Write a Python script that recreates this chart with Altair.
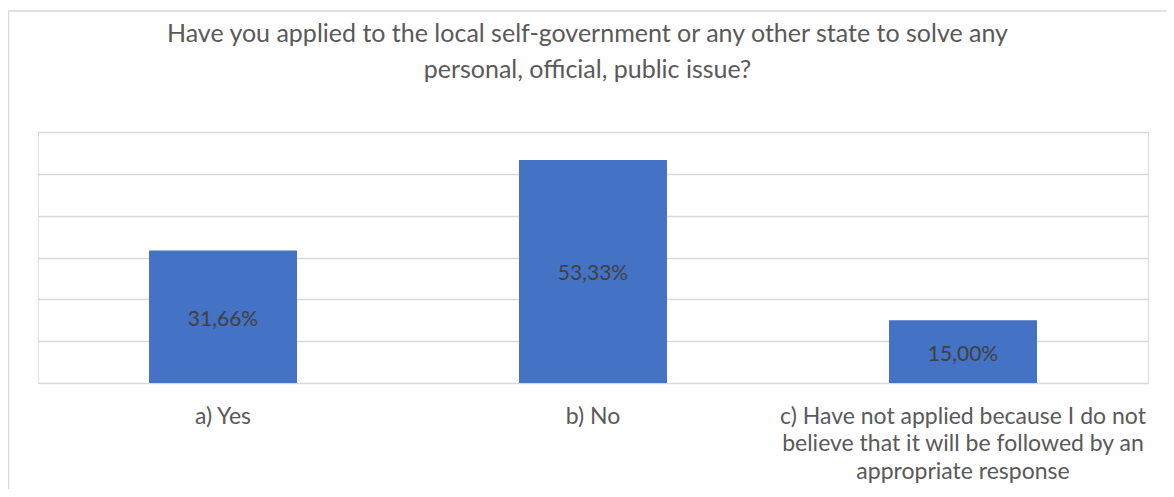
import altair as alt
import pandas as pd

categories = [
    "a) Yes",
    "b) No",
    "c) Have not applied because I do not|believe that it will be followed by an|appropriate response",
]
values = [0.3166, 0.5333, 0.15]
title_lines = [
    "Have you applied to the local self-government or any other state to solve any",
    "personal, official, public issue?",
]
y_ticks = [0, 0.1, 0.2, 0.3, 0.4, 0.5, 0.6]

FONT = "Lato"
df = pd.DataFrame({"category": categories, "value": values})

x_enc = alt.X(
    "category:N",
    sort=categories,
    scale=alt.Scale(paddingInner=0.6, paddingOuter=0.3),
    axis=alt.Axis(
        title=None,
        labelAngle=0,
        labelExpr="split(datum.value, '|')",
        labelFont=FONT,
        labelFontSize=23,
        labelColor="#595959",
        labelLineHeight=27.5,
        labelPadding=33,
        labelBaseline="middle",
        ticks=False,
        domain=False,
        labelLimit=0,
    ),
)
y_enc = alt.Y(
    "value:Q",
    scale=alt.Scale(domain=[0, 0.6], nice=False),
    axis=alt.Axis(
        title=None,
        labels=False,
        ticks=False,
        domain=False,
        values=y_ticks,
        grid=True,
        gridColor="#d9d9d9",
        gridWidth=1.5,
    ),
)

base = alt.Chart(df)
bars = base.mark_bar(color="#4472C4").encode(x=x_enc, y=y_enc)
labels = base.transform_calculate(
    mid="datum.value / 2",
    label="replace(format(datum.value, '.2%'), '.', ',')",
).mark_text(font=FONT, fontSize=21, color="#404040", baseline="middle", dy=3).encode(
    x=alt.X("category:N", sort=categories),
    y=alt.Y("mid:Q"),
    text="label:N",
)

frame_data = alt.Data(values=[{"k": 1}])
left_border = alt.Chart(frame_data).mark_rule(color="#d9d9d9", strokeWidth=1.5).encode(
    x=alt.value(-29.5), y=alt.value(-121), y2=alt.value(360)
)
top_border = alt.Chart(frame_data).mark_rule(color="#d9d9d9", strokeWidth=1.5).encode(
    x=alt.value(-29.5), x2=alt.value(1130), y=alt.value(-121)
)
title = alt.Chart(alt.Data(values=[{"t": title_lines}])).mark_text(
    font=FONT, fontSize=25, color="#595959", align="center", baseline="alphabetic", lineHeight=36
).encode(
    x=alt.value(549.5), y=alt.value(-90), text="t:N"
)

chart = alt.layer(bars, labels, left_border, top_border, title).properties(
    width=1110,
    height=251,
    padding={"left": 30, "top": 124, "right": 18, "bottom": 106},
    autosize=alt.AutoSizeParams(type="none"),
).configure_view(stroke=None).configure(background="white")

chart.save("out.html", embed_options={"renderer": "svg", "actions": False})
